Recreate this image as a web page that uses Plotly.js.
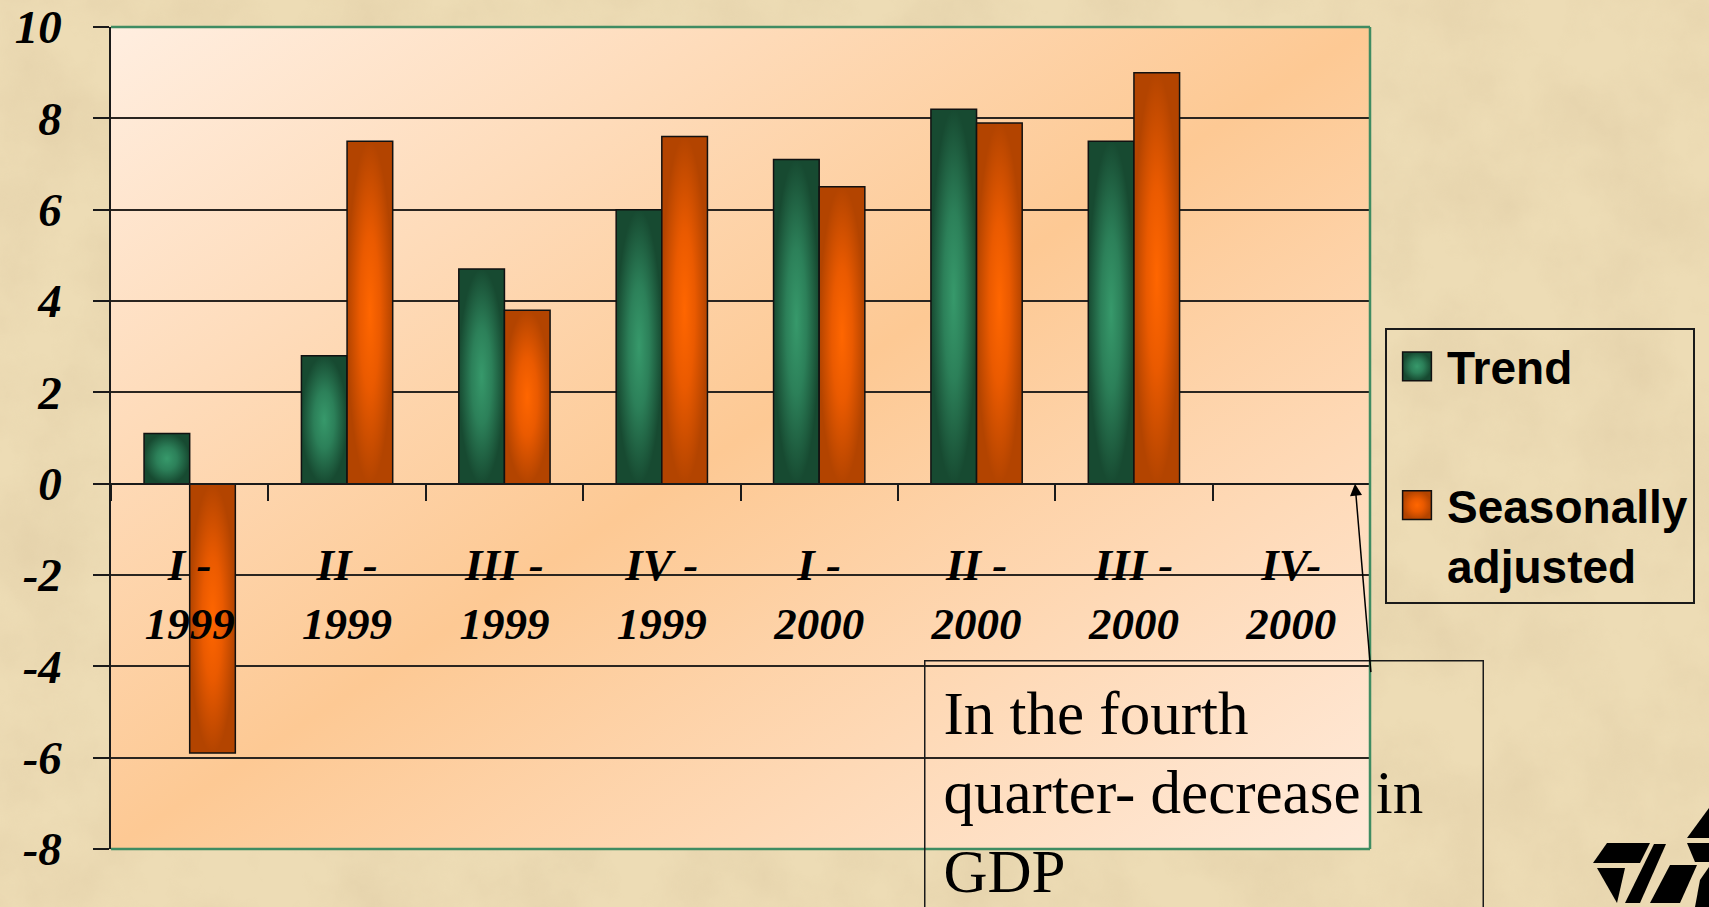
<!DOCTYPE html>
<html>
<head>
<meta charset="utf-8">
<script src="https://cdn.plot.ly/plotly-3.0.1.min.js"></script>
<style>
  html, body { margin: 0; padding: 0; overflow: hidden; }
  body { width: 1709px; height: 907px; background-color: #ead8ae; }
  #bgtex { position: absolute; left: 0; top: 0; width: 1709px; height: 907px; }
  #chart { position: absolute; left: 0; top: 0; width: 1709px; height: 907px; }
  #logo { position: absolute; left: 0; top: 0; width: 1709px; height: 907px; pointer-events: none; }
  #chart .legend .legendpoints path {
    transform: translate(30px, 0px) scale(2.4);
    vector-effect: non-scaling-stroke;
  }
  #chart .barlayer .trace:nth-child(1) .point path,
  #chart .legend .groups:nth-child(1) .legendpoints path { fill: url(#gGreen) !important; }
  #chart .barlayer .trace:nth-child(2) .point path,
  #chart .legend .groups:nth-child(2) .legendpoints path { fill: url(#gOrange) !important; }
</style>
</head>
<body>
<svg id="bgtex" width="1709" height="907">
  <defs>
    <radialGradient id="gGreen" cx="0.5" cy="0.5" r="0.5" gradientUnits="objectBoundingBox">
      <stop offset="0" stop-color="#37996b"/>
      <stop offset="0.45" stop-color="#2c8059"/>
      <stop offset="1" stop-color="#174a31"/>
    </radialGradient>
    <radialGradient id="gOrange" cx="0.5" cy="0.5" r="0.5" gradientUnits="objectBoundingBox">
      <stop offset="0" stop-color="#ff6600"/>
      <stop offset="0.45" stop-color="#ea5a00"/>
      <stop offset="1" stop-color="#b34400"/>
    </radialGradient>
  </defs>
  <filter id="n">
    <feTurbulence type="fractalNoise" baseFrequency="0.012" numOctaves="5" seed="3"/>
    <feColorMatrix type="matrix" values="0 0 0 0 0.72  0 0 0 0 0.58  0 0 0 0 0.36  1.6 0 0 0 -0.55"/>
  </filter>
  <rect width="1709" height="907" fill="#eddcb5"/>
  <rect width="1709" height="907" filter="url(#n)" opacity="0.5"/>
</svg>
<div id="chart"></div>
<svg id="logo" width="1709" height="907">
  <g fill="#000">
    <polygon points="1607,843 1650,843 1640,863 1593,863"/>
    <polygon points="1597,868 1625,868 1617,903"/>
    <polygon points="1654,844 1666,844 1640,903 1625,903"/>
    <polygon points="1670,865 1697,865 1680,903 1650,903"/>
    <polygon points="1700,880 1709,867 1709,907 1695,907"/>
    <polygon points="1687,838 1709,808 1709,838"/>
    <polygon points="1687,843 1709,843 1709,862 1695,862"/>
  </g>
</svg>
<script>
// ---- data ----
var quarters = ["I -", "II -", "III -", "IV -", "I -", "II -", "III -", "IV-"];
var years = ["1999", "1999", "1999", "1999", "2000", "2000", "2000", "2000"];
var trend = [1.1, 2.8, 4.7, 6.0, 7.1, 8.2, 7.5, null];
var seasonal = [-5.9, 7.5, 3.8, 7.6, 6.5, 7.9, 9.0, null];
var seriesNames = ["Trend", "Seasonally<br>adjusted"];
var yTicks = [-8, -6, -4, -2, 0, 2, 4, 6, 8, 10];
var yTickText = ["-8", "-6", "-4", "-2", "0", "2", "4", "6", "8", "10"];
var noteText = "In the fourth<br>quarter- decrease in<br>GDP";

var categories = quarters.map(function (q, i) { return q + "<br>" + years[i]; });

// ---- styles ----
function serifBI(size) {
  return { family: "'Liberation Serif', 'Times New Roman', serif", size: size, color: "#000", weight: 700, style: "italic" };
}
var gradSvg = "<svg xmlns='http://www.w3.org/2000/svg' width='1259' height='822' viewBox='0 0 1259 822' preserveAspectRatio='none'>" +
  "<defs><linearGradient id='g' x1='0' y1='0' x2='1' y2='1'>" +
  "<stop offset='0' stop-color='#ffeee0'/><stop offset='0.5' stop-color='#fdc994'/><stop offset='1' stop-color='#ffeada'/>" +
  "</linearGradient></defs><rect width='1259' height='822' fill='url(#g)'/></svg>";
var gradUri = "data:image/svg+xml;charset=utf-8," + encodeURIComponent(gradSvg);

var traces = [
  {
    type: "bar", x: categories, y: trend, name: seriesNames[0], legendgroup: "a",
    marker: { color: "#256e4a", line: { color: "#111", width: 1.5 } }
  },
  {
    type: "bar", x: categories, y: seasonal, name: seriesNames[1], legendgroup: "b",
    marker: { color: "#dc5800", line: { color: "#111", width: 1.5 } }
  }
];

var green = "#3f8c62";
var layout = {
  width: 1709, height: 907,
  margin: { l: 111, r: 339, t: 27, b: 58 },
  paper_bgcolor: "rgba(0,0,0,0)",
  plot_bgcolor: "rgba(0,0,0,0)",
  barmode: "group",
  bargap: 0.42,
  bargroupgap: 0,
  images: [{
    source: gradUri, xref: "paper", yref: "paper", x: 0, y: 1, sizex: 1, sizey: 1,
    xanchor: "left", yanchor: "top", sizing: "stretch", layer: "below"
  }],
  xaxis: {
    type: "category",
    anchor: "free", position: 8 / 18,
    showline: true, linecolor: "#1a1a1a", linewidth: 1.5,
    ticks: "outside", ticklen: 17, tickwidth: 1.5, tickcolor: "#1a1a1a",
    tickson: "boundaries",
    ticklabelstandoff: 42,
    showgrid: false, zeroline: false,
    tickfont: serifBI(45)
  },
  yaxis: {
    range: [-8, 10], tickvals: yTicks, ticktext: yTickText,
    showgrid: true, gridcolor: "#2a2520", gridwidth: 1.5,
    showline: true, linecolor: "#1a1a1a", linewidth: 1.5,
    ticks: "outside", ticklen: 16, tickwidth: 1.5, tickcolor: "#1a1a1a",
    ticklabelstandoff: 22,
    zeroline: false,
    tickfont: serifBI(47)
  },
  showlegend: true,
  legend: {
    x: (1385 - 111) / 1259, y: (849 - 328) / 822, xanchor: "left", yanchor: "top",
    bgcolor: "rgba(0,0,0,0)", bordercolor: "#1a1a1a", borderwidth: 2,
    font: { family: "'Liberation Sans', Arial, sans-serif", size: 46, color: "#000", weight: 700 },
    itemwidth: 50, tracegroupgap: 76, valign: "top", traceorder: "grouped"
  },
  shapes: [
    { type: "line", xref: "paper", yref: "paper", x0: 0, x1: 1, y0: 1, y1: 1, line: { color: green, width: 2.5 }, layer: "above" },
    { type: "line", xref: "paper", yref: "paper", x0: 1, x1: 1, y0: 0, y1: 1, line: { color: green, width: 2.5 }, layer: "above" },
    { type: "line", xref: "paper", yref: "paper", x0: 0, x1: 1, y0: 0, y1: 0, line: { color: green, width: 2.5 }, layer: "above" }
  ],
  annotations: [
    {
      xref: "paper", yref: "paper", x: (924 - 111) / 1259, y: (849 - 660) / 822,
      xanchor: "left", yanchor: "top", align: "left", valign: "top",
      text: noteText, showarrow: false,
      width: 521, height: 262, borderpad: 18,
      bordercolor: "#1a1a1a", borderwidth: 1.5, bgcolor: "rgba(0,0,0,0)",
      font: { family: "'Liberation Serif', 'Times New Roman', serif", size: 61, color: "#000" }
    },
    {
      xref: "paper", yref: "y", x: (1355 - 111) / 1259, y: 0,
      text: "", showarrow: true, ax: 16, ay: 190,
      arrowhead: 2, arrowsize: 1.6, arrowwidth: 1.5, arrowcolor: "#000", standoff: 0
    }
  ]
};

Plotly.newPlot("chart", traces, layout, { displayModeBar: false, responsive: false });
</script>
</body>
</html>
